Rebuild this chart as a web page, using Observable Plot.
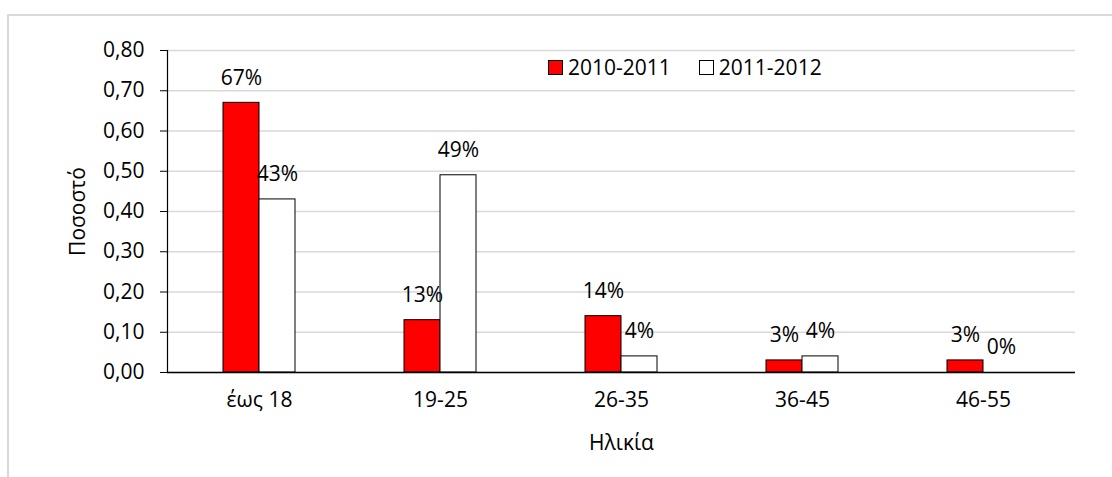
<!DOCTYPE html>
<html>
<head>
<meta charset="utf-8">
<script src="https://cdn.jsdelivr.net/npm/d3@7"></script>
<script src="https://cdn.jsdelivr.net/npm/@observablehq/plot@0.6"></script>
<style>
  html, body { margin: 0; padding: 0; background: #fff; }
  #wrap { position: relative; width: 1112px; height: 477px; overflow: hidden; font-family: 'Open Sans', sans-serif; }
  #border { position: absolute; left: 7px; top: 14px; width: 1120px; height: 480px; border: 2px solid #d9d9d9; box-sizing: border-box; pointer-events: none; z-index: 2; }
  #legend { position: absolute; left: 548px; top: 53px; display: flex; align-items: center; font-size: 21px; color: #000; z-index: 3; }
  .item { display: flex; align-items: center; margin-right: 28px; }
  .sw { width: 13px; height: 13px; border: 1px solid #000; margin-right: 5px; }
</style>
</head>
<body>
<div id="wrap">
  <div id="border"></div>
  <div id="legend"></div>
</div>
<script>
const ages = ["έως 18", "19-25", "26-35", "36-45", "46-55"];
const seriesNames = ["2010-2011", "2011-2012"];
const values2010 = [0.67, 0.13, 0.14, 0.03, 0.03];
const values2011 = [0.43, 0.49, 0.04, 0.04, 0.00];
const yTicks = [0, 0.1, 0.2, 0.3, 0.4, 0.5, 0.6, 0.7, 0.8];
const seriesColors = ["#ff0000", "#ffffff"];

const rowsA = ages.map((a, i) => ({age: a, series: seriesNames[0], value: values2010[i]}));
const rowsB = ages.map((a, i) => ({age: a, series: seriesNames[1], value: values2011[i]}));

const pct = d3.format(".0%");
const tickFmt = d => d3.format(".2f")(d).replace(".", ",");
const FS = 21;

const chart = Plot.plot({
  width: 1112,
  height: 477,
  marginLeft: 167,
  marginRight: 37,
  marginTop: 50,
  marginBottom: 105,
  style: {fontFamily: "'Open Sans', sans-serif", fontSize: "21px", color: "#000", background: "transparent", overflow: "visible"},
  x: {domain: ages, paddingInner: 0.6035, paddingOuter: 0.3018, align: 0.5},
  y: {domain: [0, 0.8]},
  marks: [
    Plot.gridY(yTicks, {stroke: "#d9d9d9", strokeOpacity: 1, strokeWidth: 1.5}),
    Plot.barY(rowsA, {x: "age", y: "value", fill: seriesColors[0], stroke: "#000", strokeWidth: 1, insetRight: 36}),
    Plot.barY(rowsB, {x: "age", y: "value", fill: seriesColors[1], stroke: "#000", strokeWidth: 1, insetLeft: 36}),
    Plot.ruleY([0], {stroke: "#000", strokeWidth: 1.5}),
    Plot.frame({anchor: "left", stroke: "#000", strokeWidth: 1.2}),
    Plot.axisY({ticks: yTicks, tickFormat: tickFmt, tickSize: 7, tickPadding: 16, label: null, fontSize: FS, stroke: "#000"}),
    Plot.axisX({tickSize: 0, tickPadding: 20, label: null, fontSize: FS}),
    Plot.text(rowsA, {x: "age", y: "value", text: d => pct(d.value), dx: -18, dy: -25, lineAnchor: "middle", fontSize: FS, fill: "#000"}),
    Plot.text(rowsB, {x: "age", y: "value", text: d => pct(d.value), dx: 18, dy: -25, lineAnchor: "middle", fontSize: FS, fill: "#000"}),
    Plot.text(["Ποσοστό"], {frameAnchor: "left", dx: -89, rotate: -90, textAnchor: "middle", lineAnchor: "middle", fontSize: FS, fill: "#000"}),
    Plot.text(["Ηλικία"], {frameAnchor: "bottom", dy: 71, textAnchor: "middle", lineAnchor: "middle", fontSize: FS, fill: "#000"})
  ]
});
chart.style.position = "absolute";
chart.style.left = "0px";
chart.style.top = "0px";
document.getElementById("wrap").appendChild(chart);

const legend = document.getElementById("legend");
seriesNames.forEach((name, i) => {
  const item = document.createElement("div");
  item.className = "item";
  const sw = document.createElement("div");
  sw.className = "sw";
  sw.style.background = seriesColors[i];
  const t = document.createElement("span");
  t.textContent = name;
  item.appendChild(sw);
  item.appendChild(t);
  legend.appendChild(item);
});
</script>
</body>
</html>
